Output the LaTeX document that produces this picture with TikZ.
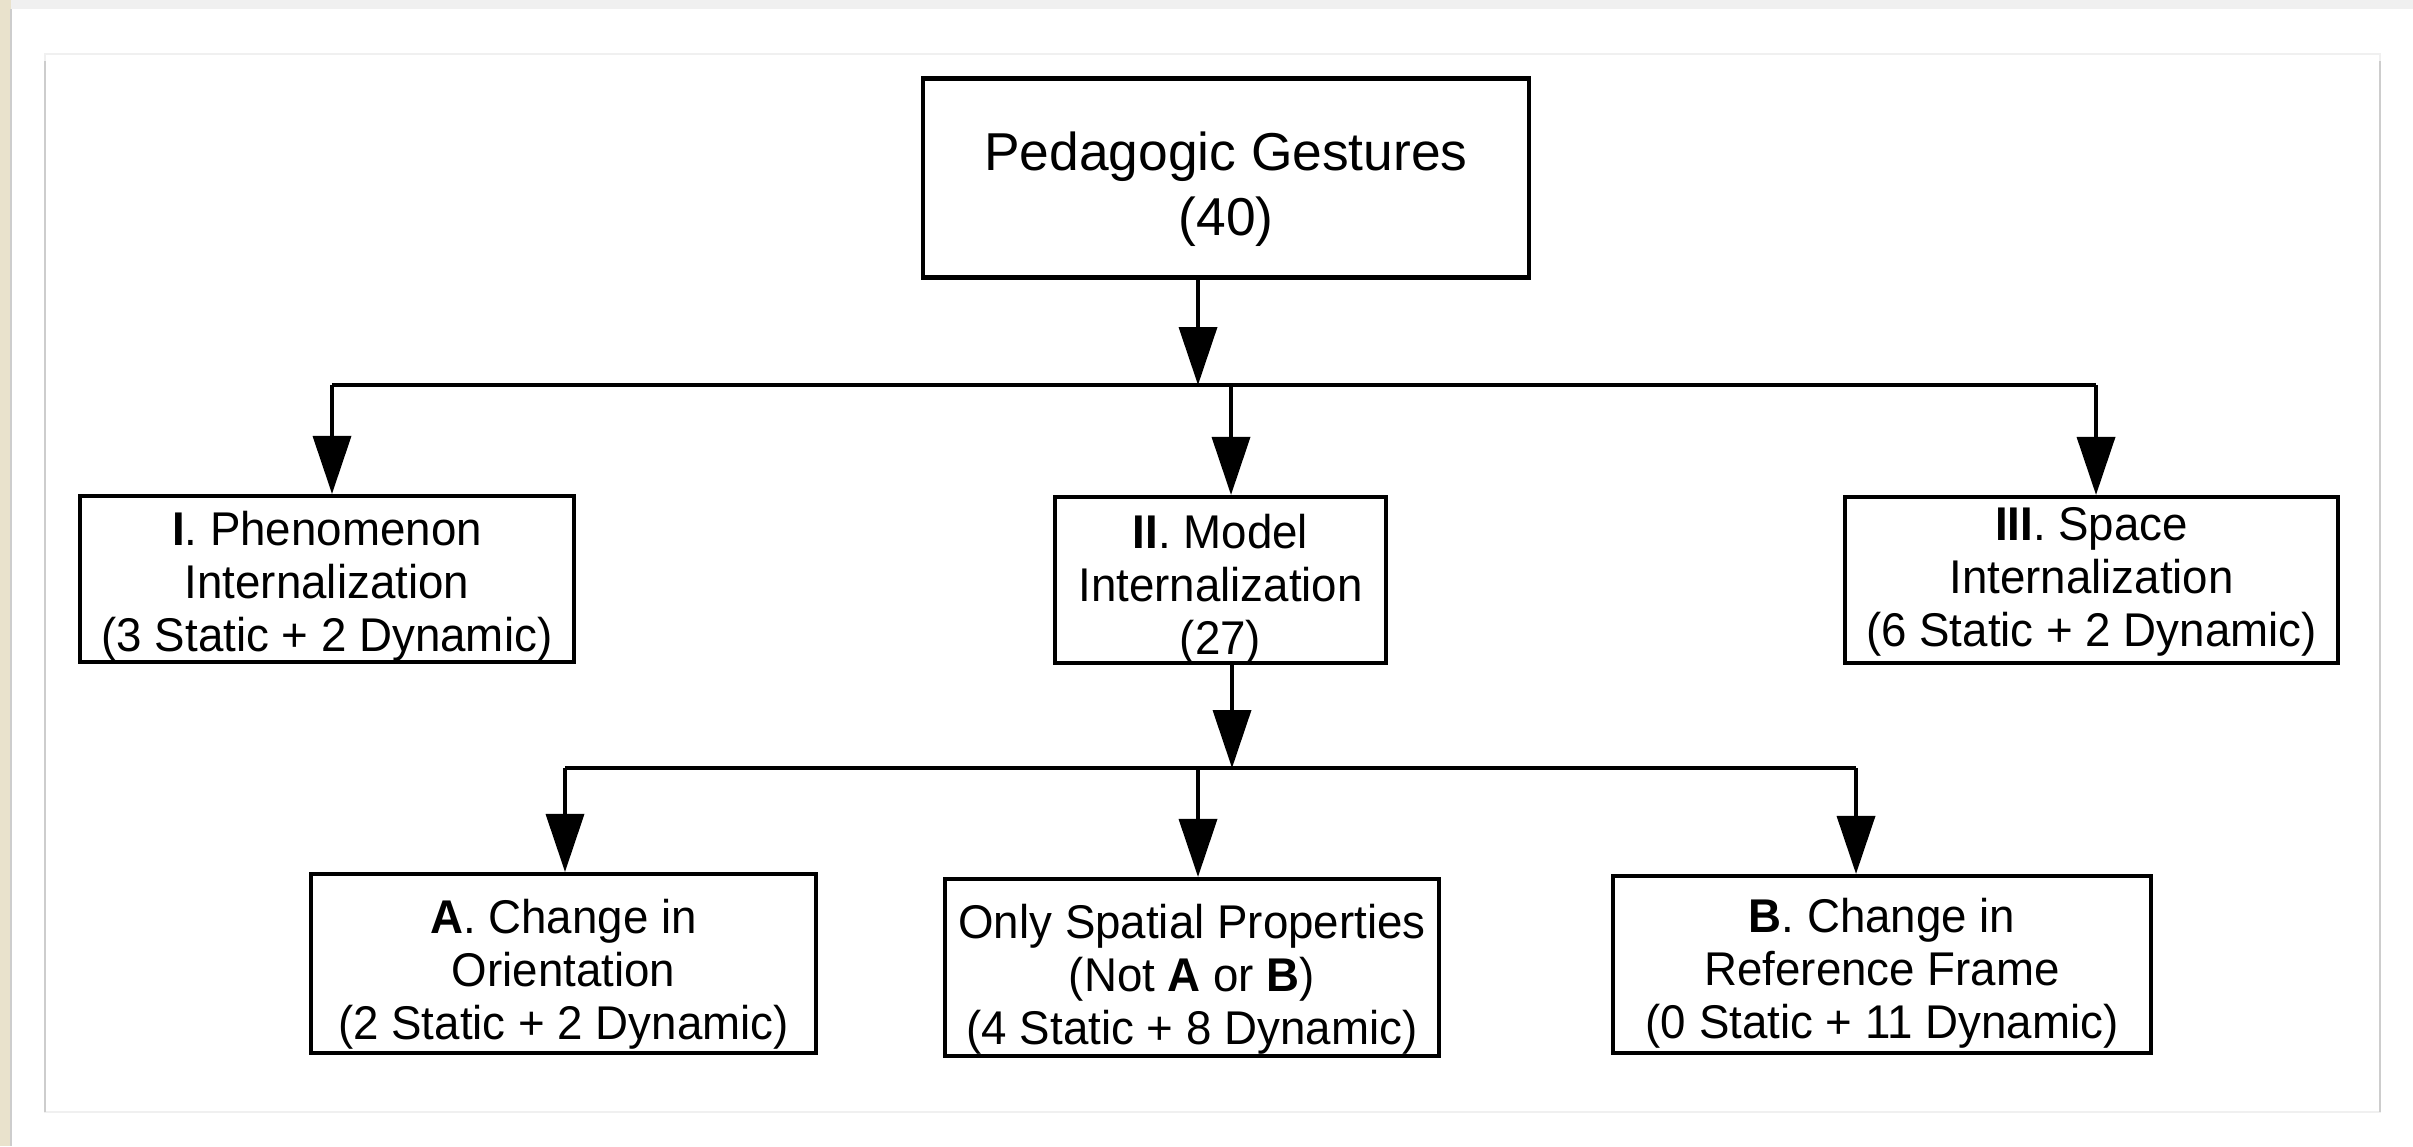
\documentclass[tikz,border=0pt]{standalone}
\usepackage{fontspec}
\setmainfont{Liberation Sans}
\newfontfamily\boxfont[FakeStretch=0.965]{Liberation Sans}
\usetikzlibrary{arrows.meta}
\definecolor{bandgray}{RGB}{240,240,240}
\definecolor{beige}{RGB}{233,226,204}
\definecolor{framegray}{RGB}{205,205,205}
\definecolor{framelight}{RGB}{240,240,240}
\begin{document}
\begin{tikzpicture}[x=0.3pt,y=-0.3pt,
  box/.style={draw, line width=1.25pt, rectangle, inner sep=0pt},
  lbl/.style={align=center, inner sep=0pt, font=\boxfont\fontsize{14.2pt}{15.9pt}\selectfont},
  toplbl/.style={align=center, inner sep=0pt, font=\fontsize{16pt}{19.4pt}\selectfont},
  conn/.style={line width=1.1pt},
  arr/.style={conn, -{Triangle[width=11.4pt,length=17.4pt]}},
]
% background / frame
\useasboundingbox (0,0) rectangle (2413,1146);
\fill[white] (0,0) rectangle (2413,1146);
\fill[bandgray] (0,0) rectangle (2413,9);
\fill[beige] (0,0) rectangle (11,1146);
\draw[framegray, line width=0.5pt] (11,9) -- (11,1146);
\draw[framelight, line width=0.8pt] (45,54) rectangle (2380,1112);
\draw[framegray, line width=0.7pt] (45,61) -- (45,1112);
\draw[framegray, line width=0.7pt] (2380,61) -- (2380,1112);

% boxes
\node[box, minimum width=181.8pt, minimum height=59.7pt] (top) at (1226,178) {};
\node[box, minimum width=148.2pt, minimum height=49.8pt] (b1) at (327,579) {};
\node[box, minimum width=99.3pt,  minimum height=49.8pt] (b2) at (1220.5,580) {};
\node[box, minimum width=147.9pt, minimum height=49.8pt] (b3) at (2091.5,580) {};
\node[box, minimum width=151.5pt, minimum height=53.7pt] (ba) at (563.5,963.5) {};
\node[box, minimum width=148.2pt, minimum height=53.1pt] (bm) at (1192,967.5) {};
\node[box, minimum width=161.4pt, minimum height=53.1pt] (bb) at (1882,964.5) {};

% texts
\node[toplbl] (topt) at (1226,189) {Pedagogic Gestures\\(40)};
\node[lbl] (b1t) at (327,586) {\textbf{I}. Phenomenon\\Internalization\\(3 Static + 2 Dynamic)};
\node[lbl] (b2t) at (1220.5,589) {\textbf{II}. Model\\Internalization\\(27)};
\node[lbl] (b3t) at (2091.5,582) {\textbf{III}. Space\\Internalization\\(6 Static + 2 Dynamic)};
\node[lbl] (bat) at (563.5,974) {\textbf{A}. Change in\\Orientation\\(2 Static + 2 Dynamic)};
\node[lbl] (bmt) at (1192,979) {Only Spatial Properties\\(Not \textbf{A} or \textbf{B})\\(4 Static + 8 Dynamic)};
\node[lbl] (bbt) at (1882,973) {\textbf{B}. Change in\\Reference Frame\\(0 Static + 11 Dynamic)};

% first level bus
\coordinate (k0) at (1198,385);
\coordinate (k1) at (332,385);
\coordinate (k2) at (1231,385);
\coordinate (k3) at (2096,385);
\draw[arr] (top.south -| k0) -- (k0);
\draw[conn] (k1) -- (k3);
\draw[arr] (k1) -- (k1 |- b1.north);
\draw[arr] (k2) -- (k2 |- b2.north);
\draw[arr] (k3) -- (k3 |- b3.north);

% second level bus
\coordinate (m0) at (1232,768);
\coordinate (m1) at (565,768);
\coordinate (m2) at (1198,768);
\coordinate (m3) at (1856,768);
\draw[arr] (b2.south -| m0) -- (m0);
\draw[conn] (m1) -- (m3);
\draw[arr] (m1) -- (m1 |- ba.north);
\draw[arr] (m2) -- (m2 |- bm.north);
\draw[arr] (m3) -- (m3 |- bb.north);
\end{tikzpicture}
\end{document}
